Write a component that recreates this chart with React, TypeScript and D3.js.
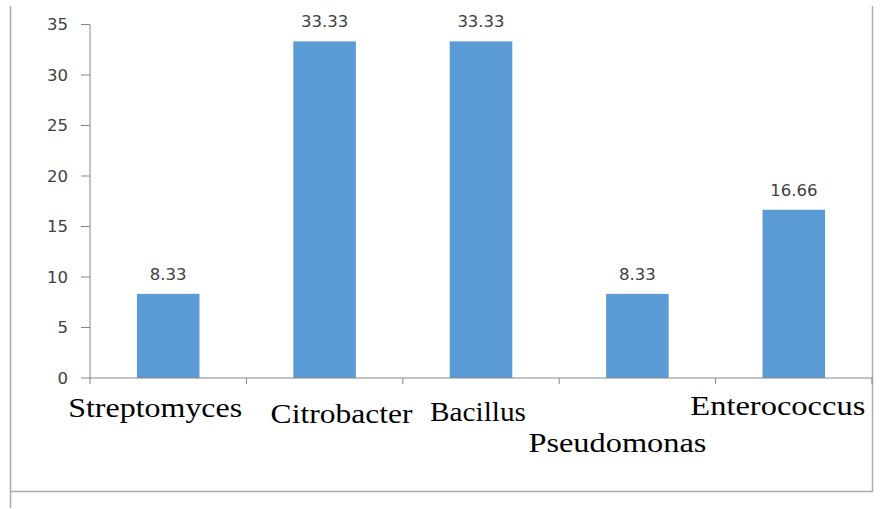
import React from "react";
import * as d3 from "d3";

const categories = ["Streptomyces", "Citrobacter", "Bacillus", "Pseudomonas", "Enterococcus"];
const values = [8.33, 33.33, 33.33, 8.33, 16.66];
const valueLabels = ["8.33", "33.33", "33.33", "8.33", "16.66"];
const yTicks = [0, 5, 10, 15, 20, 25, 30, 35];

// layout of the hand-placed category labels (offset from band centre, baseline, width)
const labelLayout = [
  { dx: -13, y: 417, w: 174 },
  { dx: 17, y: 423, w: 142 },
  { dx: -3, y: 421, w: 96 },
  { dx: -20, y: 452, w: 178 },
  { dx: -16, y: 415, w: 175 },
];

const W = 883;
const H = 509;
const left = 90;
const right = 872;
const y0 = 378;
const yTop = 24.5;

export default function App() {
  const x = d3.scaleBand<string>().domain(categories).range([left, right]).paddingInner(0.6).paddingOuter(0.3);
  const y = d3.scaleLinear().domain([0, 35]).range([y0, yTop]);
  const step = x.step();
  const boundaries = d3.range(categories.length + 1).map((i) => left + i * step);
  const border = "#ababab";
  const axis = "#868686";
  const textCol = "#404040";
  const serif = "'Liberation Serif', 'Times New Roman', serif";

  return (
    <div style={{ position: "absolute", left: 0, top: 0 }}>
      <svg width={W} height={H} style={{ display: "block" }}>
        <rect width={W} height={H} fill="#fff" />
        {/* outer frame */}
        <line x1={10.5} x2={10.5} y1={6} y2={508} stroke={border} strokeWidth={1.5} />
        <line x1={10.5} x2={873} y1={491.5} y2={491.5} stroke={border} strokeWidth={1.5} />
        <line x1={872.5} x2={872.5} y1={6} y2={492} stroke={border} strokeWidth={1.5} />

        {/* bars */}
        {categories.map((c, i) => (
          <rect key={c} x={x(c)} y={y(values[i])} width={x.bandwidth()} height={y0 - y(values[i])} fill="#5B9BD5" />
        ))}

        {/* value labels */}
        {categories.map((c, i) => (
          <text
            key={"v" + c}
            x={(x(c) as number) + x.bandwidth() / 2}
            y={y(values[i]) - 14}
            textAnchor="middle"
            fontFamily="DejaVu Sans, Verdana, sans-serif"
            fontSize={16.5}
            fill={textCol}
          >
            {valueLabels[i]}
          </text>
        ))}

        {/* y axis */}
        <line x1={left} x2={left} y1={y(35)} y2={y0} stroke={axis} strokeWidth={1} />
        {yTicks.map((t) => (
          <g key={t}>
            <line x1={left - 9} x2={left} y1={y(t)} y2={y(t)} stroke={axis} strokeWidth={1} />
            <text
              x={68}
              y={y(t)}
              dy="0.36em"
              textAnchor="end"
              fontFamily="DejaVu Sans, Verdana, sans-serif"
              fontSize={16.5}
              fill={textCol}
            >
              {t}
            </text>
          </g>
        ))}

        {/* x axis */}
        <line x1={left} x2={right} y1={y0} y2={y0} stroke={axis} strokeWidth={1} />
        {boundaries.map((b, i) => (
          <line key={"b" + i} x1={b} x2={b} y1={y0} y2={y0 + 6} stroke={axis} strokeWidth={1} />
        ))}

        {/* category labels */}
        {categories.map((c, i) => {
          const l = labelLayout[i];
          const cx = (x(c) as number) + x.bandwidth() / 2 + l.dx;
          return (
            <text
              key={"c" + c}
              x={cx - l.w / 2}
              y={l.y}
              textLength={l.w}
              lengthAdjust="spacingAndGlyphs"
              fontFamily={serif}
              fontSize={28}
              fill="#000"
            >
              {c}
            </text>
          );
        })}
      </svg>
    </div>
  );
}
